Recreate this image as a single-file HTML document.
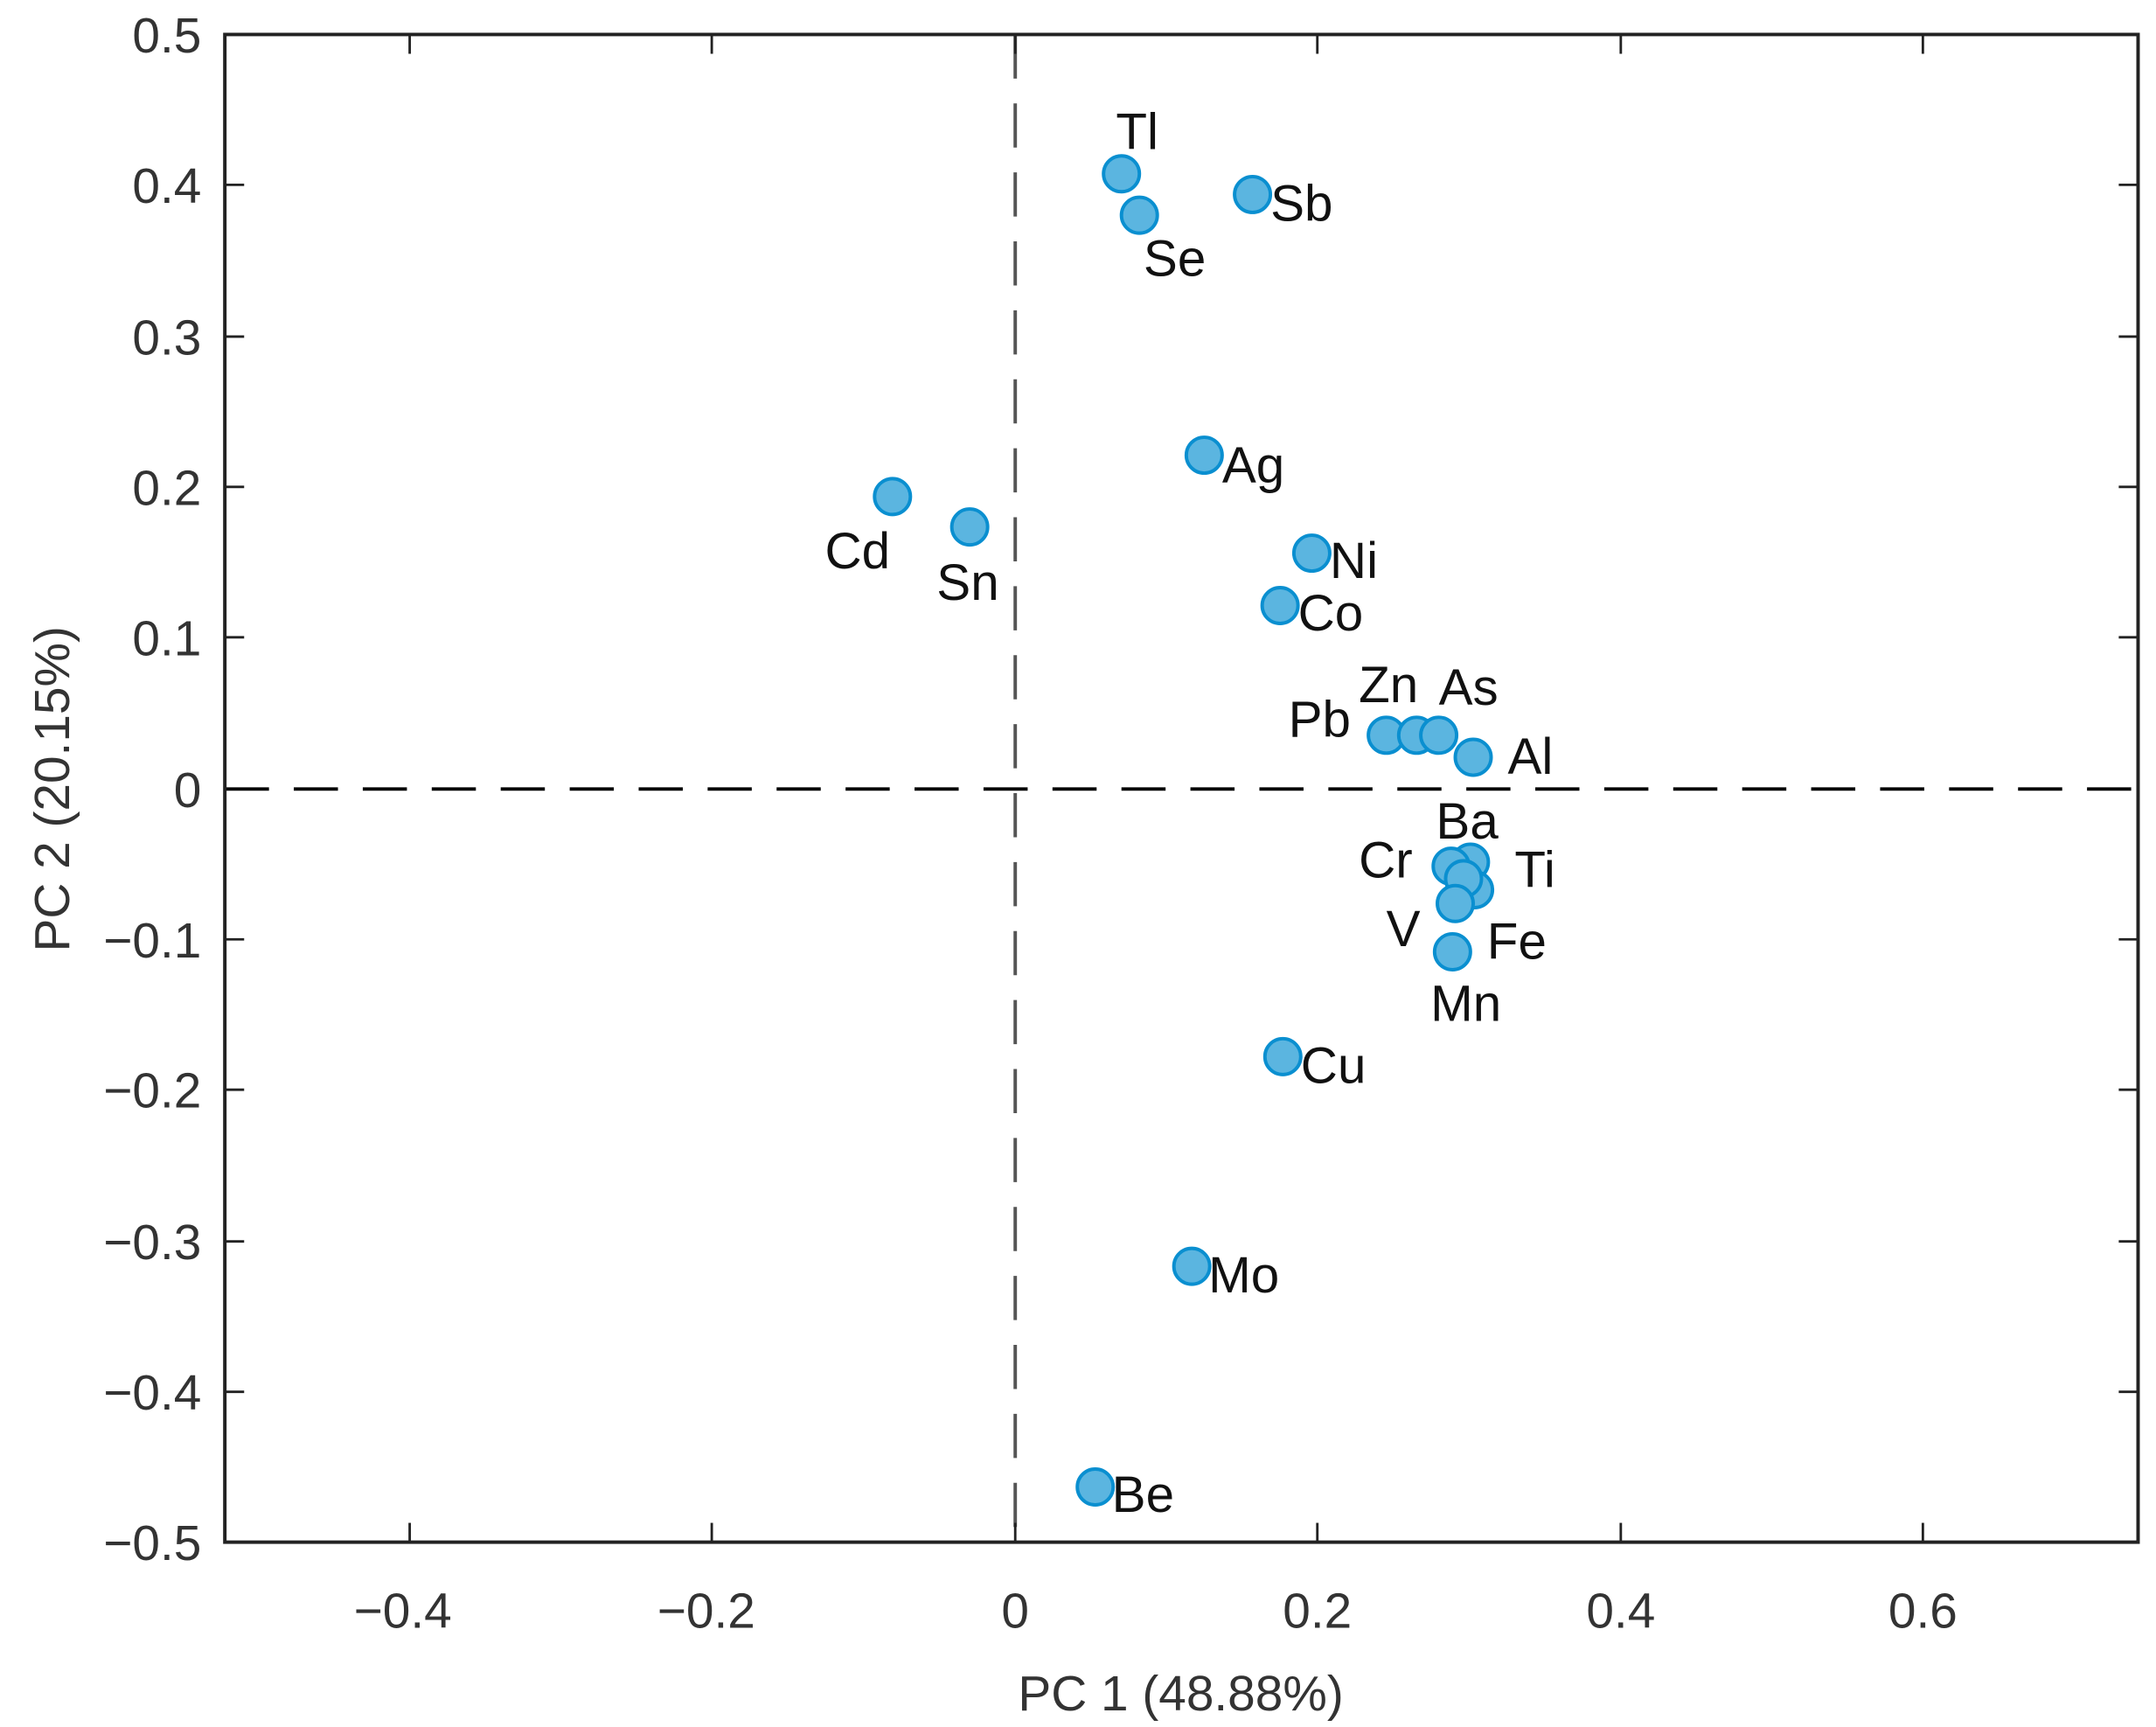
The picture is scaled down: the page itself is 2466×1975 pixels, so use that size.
<!DOCTYPE html>
<html><head><meta charset="utf-8"><style>
html,body{margin:0;padding:0;background:#fff;}
svg{display:block;}
text{font-family:"Liberation Sans",sans-serif;}
</style></head><body>
<svg width="2466" height="1975" viewBox="0 0 1563 1252" preserveAspectRatio="none" xmlns="http://www.w3.org/2000/svg">
<rect width="1563" height="1252" fill="#fff"/>
<line x1="163" y1="572" x2="1550" y2="572" stroke="#000" stroke-width="2.5" stroke-dasharray="32,18"/>
<line x1="736" y1="25" x2="736" y2="1118" stroke="#555" stroke-width="2.5" stroke-dasharray="32,18"/>
<rect x="163" y="25" width="1387" height="1093" fill="none" stroke="#222" stroke-width="2.5"/>
<g stroke="#222" stroke-width="1.8">
<line x1="297" y1="1118" x2="297" y2="1104"/><line x1="516" y1="1118" x2="516" y2="1104"/><line x1="736" y1="1118" x2="736" y2="1104"/><line x1="955" y1="1118" x2="955" y2="1104"/><line x1="1175" y1="1118" x2="1175" y2="1104"/><line x1="1394" y1="1118" x2="1394" y2="1104"/>
<line x1="297" y1="25" x2="297" y2="39"/><line x1="516" y1="25" x2="516" y2="39"/><line x1="736" y1="25" x2="736" y2="39"/><line x1="955" y1="25" x2="955" y2="39"/><line x1="1175" y1="25" x2="1175" y2="39"/><line x1="1394" y1="25" x2="1394" y2="39"/>
<line x1="163" y1="134" x2="177" y2="134"/><line x1="163" y1="244" x2="177" y2="244"/><line x1="163" y1="353" x2="177" y2="353"/><line x1="163" y1="462" x2="177" y2="462"/><line x1="163" y1="681" x2="177" y2="681"/><line x1="163" y1="790" x2="177" y2="790"/><line x1="163" y1="900" x2="177" y2="900"/><line x1="163" y1="1009" x2="177" y2="1009"/>
<line x1="1550" y1="134" x2="1536" y2="134"/><line x1="1550" y1="244" x2="1536" y2="244"/><line x1="1550" y1="353" x2="1536" y2="353"/><line x1="1550" y1="462" x2="1536" y2="462"/><line x1="1550" y1="681" x2="1536" y2="681"/><line x1="1550" y1="790" x2="1536" y2="790"/><line x1="1550" y1="900" x2="1536" y2="900"/><line x1="1550" y1="1009" x2="1536" y2="1009"/>
</g>
<g font-size="36" fill="#333" text-anchor="end">
<text x="146" y="38">0.5</text><text x="146" y="147">0.4</text><text x="146" y="257">0.3</text><text x="146" y="366">0.2</text><text x="146" y="475">0.1</text><text x="146" y="585">0</text><text x="146" y="694">−0.1</text><text x="146" y="803">−0.2</text><text x="146" y="913">−0.3</text><text x="146" y="1022">−0.4</text><text x="146" y="1131">−0.5</text>
</g>
<g font-size="36" fill="#333" text-anchor="middle">
<text x="292" y="1180">−0.4</text><text x="512" y="1180">−0.2</text><text x="736" y="1180">0</text><text x="955" y="1180">0.2</text><text x="1175" y="1180">0.4</text><text x="1394" y="1180">0.6</text>
<text x="856" y="1240">PC 1 (48.88%)</text>
<text transform="translate(50,572) rotate(-90)">PC 2 (20.15%)</text>
</g>
<g fill="#5bb5e0" stroke="#0a8fd0" stroke-width="2.5">
<circle cx="813" cy="126" r="13"/><circle cx="826" cy="156" r="13"/><circle cx="908" cy="141" r="13"/><circle cx="873" cy="330" r="13"/>
<circle cx="647" cy="360" r="13"/><circle cx="703" cy="382" r="13"/><circle cx="951" cy="401" r="13"/><circle cx="928" cy="439" r="13"/>
<circle cx="1005" cy="533" r="13"/><circle cx="1027" cy="533" r="13"/><circle cx="1043" cy="533" r="13"/><circle cx="1068" cy="549" r="13"/>
<circle cx="1066" cy="625" r="13"/><circle cx="1052" cy="628" r="13"/><circle cx="1069" cy="645" r="13"/><circle cx="1061" cy="637" r="13"/>
<circle cx="1055" cy="655" r="13"/><circle cx="1053" cy="690" r="13"/><circle cx="930" cy="766" r="13"/><circle cx="864" cy="918" r="13"/><circle cx="794" cy="1078" r="13"/>
</g>
<g font-size="37" fill="#111">
<text x="809" y="108">Tl</text><text x="921" y="160">Sb</text><text x="829" y="200">Se</text><text x="886" y="350">Ag</text>
<text x="598" y="412">Cd</text><text x="679" y="435">Sn</text><text x="964" y="419">Ni</text><text x="941" y="457">Co</text>
<text x="985" y="509">Zn</text><text x="1043" y="511">As</text><text x="934" y="534">Pb</text><text x="1093" y="561">Al</text>
<text x="1041" y="608">Ba</text><text x="985" y="636">Cr</text><text x="1098" y="643">Ti</text><text x="1005" y="686">V</text>
<text x="1078" y="695">Fe</text><text x="1037" y="740">Mn</text><text x="943" y="785">Cu</text><text x="876" y="937">Mo</text><text x="806" y="1096">Be</text>
</g>
</svg>
</body></html>
